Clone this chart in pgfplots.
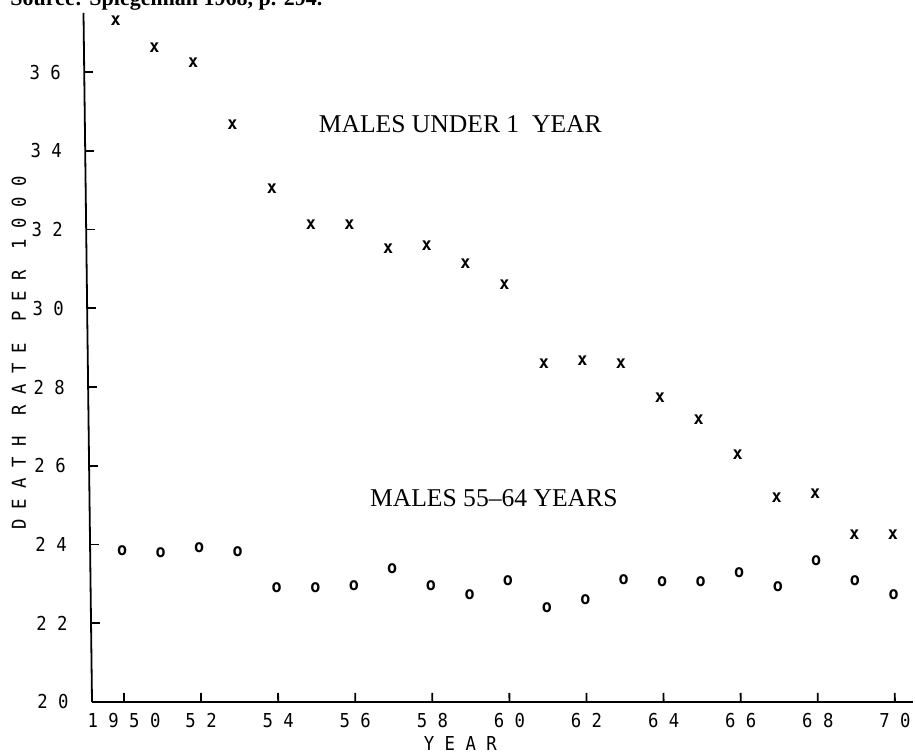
\documentclass[border=0pt]{standalone}
\usepackage{pgfplots}
\pgfplotsset{compat=1.18}
\usepackage{fontspec}
\setmainfont{Liberation Serif}
\newfontfamily\mono[FakeStretch=0.9]{DejaVu Sans Mono}
\newfontfamily\monob[FakeStretch=0.95]{DejaVu Sans Mono Bold}
\newcommand\tfont{\mono\fontsize{9.6pt}{11pt}\selectfont}
\newcommand\mfont{\monob\fontsize{8.8pt}{10pt}\selectfont}
\begin{document}
\begin{tikzpicture}
\useasboundingbox (0,0) rectangle (457.5pt,376.5pt);
\node[anchor=base west, inner sep=0pt, font=\bfseries\fontsize{11pt}{13pt}\selectfont] at (5pt,373.5pt) {Source: Spiegelman 1968, p. 294.};
\begin{axis}[
  at={(41.75pt,25.5pt)}, anchor=south west,
  x={(19.2723pt,0pt)}, y={(-0.243pt,19.6857pt)},
  xmin=1949.17, xmax=1970.47, ymin=20, ymax=37.5,
  axis lines=left,
  axis line style={-, line width=0.9pt, black},
  tick align=inside,
  major tick length=4.5pt,
  every tick/.style={black, line width=0.9pt},
  xtick={1950,1952,...,1970},
  xticklabels={1 9 5 0, 5 2, 5 4, 5 6, 5 8, 6 0, 6 2, 6 4, 6 6, 6 8, 7 0},
  ytick={20,22,...,36},
  yticklabels={2 0, 2 2, 2 4, 2 6, 2 8, 3 0, 3 2, 3 4, 3 6},
  xticklabel style={font=\tfont, anchor=north, inner sep=0pt, yshift=-5.5pt},
  yticklabel style={font=\tfont, anchor=east, inner sep=0pt, xshift=-11.5pt},
  xlabel={Y E A R},
  ylabel={D E A T H\ \ R A T E\ \ P E R\ \ 1 0 0 0},
  xlabel style={font=\tfont, at={(axis description cs:0.4543,0)}, anchor=north, inner sep=0pt, yshift=-17pt},
  ylabel style={font=\tfont, at={(axis description cs:-0.0779,0.5065)}, anchor=center, inner sep=0pt},
  clip=false,
]
\addplot[only marks, mark=text, text mark={x}, text mark as node=true,
  text mark style={font=\mfont, inner sep=0pt}] coordinates {
(1950,37.31) (1951,36.62) (1952,36.24) (1953,34.67) (1954,33.05)
(1955,32.13) (1956,32.13) (1957,31.52) (1958,31.60) (1959,31.12)
(1960,30.61) (1961,28.60) (1962,28.68) (1963,28.60) (1964,27.74)
(1965,27.16) (1966,26.27) (1967,25.20) (1968,25.28) (1969,24.24)
(1970,24.24)
};
\addplot[only marks, mark=text, text mark={o}, text mark as node=true,
  text mark style={font=\mfont, inner sep=0pt}] coordinates {
(1950,23.84) (1951,23.78) (1952,23.91) (1953,23.81) (1954,22.90)
(1955,22.90) (1956,22.95) (1957,23.38) (1958,22.95) (1959,22.72)
(1960,23.07) (1961,22.39) (1962,22.59) (1963,23.10) (1964,23.05)
(1965,23.05) (1966,23.28) (1967,22.92) (1968,23.58) (1969,23.07)
(1970,22.72)
};
\node[font=\fontsize{12.8pt}{15pt}\selectfont, inner sep=0pt] at (axis cs:1958.91,34.68) {MALES UNDER 1\ \ YEAR};
\node[font=\fontsize{12.8pt}{15pt}\selectfont, inner sep=0pt] at (axis cs:1959.66,25.18) {MALES 55--64 YEARS};
\end{axis}
\end{tikzpicture}
\end{document}
